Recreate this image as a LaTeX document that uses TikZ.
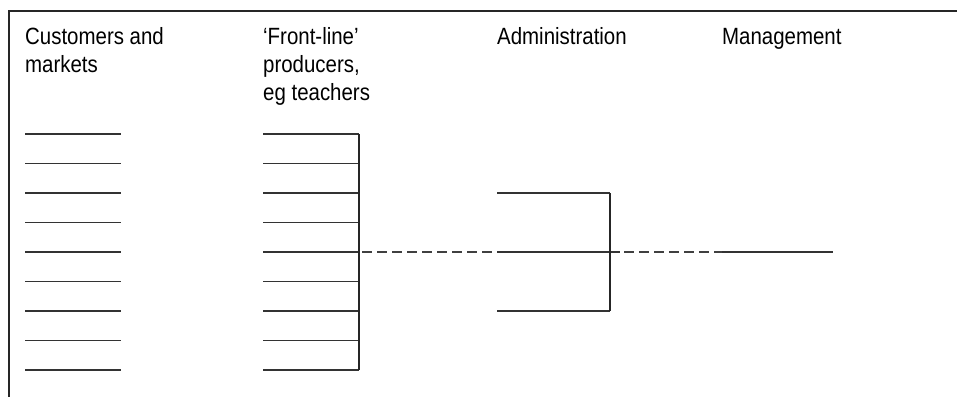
\documentclass[tikz,border=0pt]{standalone}
\usepackage{fontspec}
\setmainfont{Liberation Sans}[FakeStretch=0.87]
\begin{document}
\begin{tikzpicture}[x=1pt,y=-1pt,
  rule/.style={line width=1.4pt, draw=black!85},
  slot/.style={line width=1.6pt, draw=black!80},
  link/.style={line width=1.6pt, draw=black!75, dash pattern=on 10pt off 5pt},
  heading/.style={anchor=base west, inner sep=0pt, align=left,
    font=\fontsize{23.5}{28}\selectfont, text=black}]
\useasboundingbox (0,0) rectangle (957,397);

% outer frame: top and left edges only
\draw[rule] (957,11) -- (9,11) -- (9,397);

% column headings (anchored at the baseline of their last line)
\node[heading] (cust) at (25,72) {Customers and\\markets};
\node[heading] (front) at (263,100) {‘Front-line’\\producers,\\eg teachers};
\node[heading] (admin) at (497,44) {Administration};
\node[heading] (mgmt) at (722,44) {Management};

% customer slots and front-line producer slots
\foreach \i in {0,...,8} {
  \coordinate (c\i a) at (25,134+\i*29.5);
  \coordinate (c\i b) at (121,134+\i*29.5);
  \coordinate (f\i a) at (263,134+\i*29.5);
  \coordinate (f\i b) at (359,134+\i*29.5);
  \draw[slot] (c\i a) -- (c\i b);
  \draw[slot] (f\i a) -- (f\i b);
}
\draw[rule] (f0b) -- (f8b);

% administration bracket
\coordinate (a0a) at (497,193);
\coordinate (a0b) at (610,193);
\coordinate (a1a) at (497,252);
\coordinate (a1b) at (620,252);
\coordinate (a2a) at (497,311);
\coordinate (a2b) at (610,311);
\draw[slot] (a0a) -- (a0b);
\draw[slot] (a1a) -- (a1b);
\draw[slot] (a2a) -- (a2b);
\draw[rule] (a0b) -- (a2b);

% management line
\coordinate (m0a) at (722,252);
\coordinate (m0b) at (833,252);
\draw[slot] (m0a) -- (m0b);

% dashed links between the levels
\draw[link, dash phase=12pt] (f4b) -- (a1a);
\draw[link, dash phase=11pt] (a1b) -- (m0a);
\end{tikzpicture}
\end{document}
